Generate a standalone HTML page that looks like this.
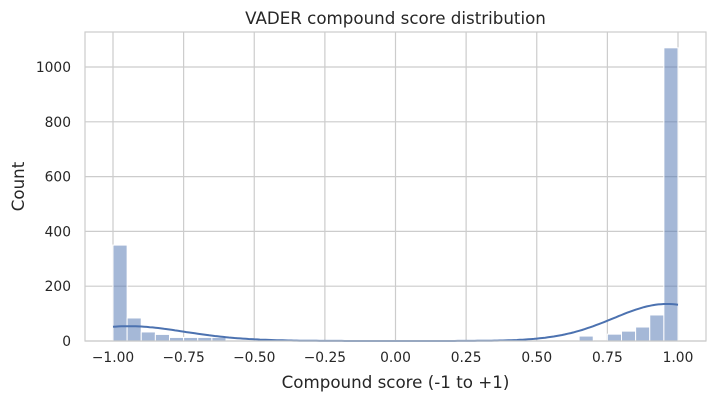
<!DOCTYPE html>
<html><head><meta charset="utf-8"><style>
body{margin:0;background:#fff;}
svg{display:block;font-family:"DejaVu Sans","Liberation Sans",sans-serif;}
</style></head><body>
<svg id="chart" width="715" height="402">
<g id="grid"></g><g id="bars"></g><g id="kde"></g>
<rect x="85" y="32" width="621" height="309" fill="none" stroke="#cccccc" stroke-width="1.2"/>
<g id="ticks"></g>
<text x="395.5" y="24" text-anchor="middle" font-size="16.7" fill="#262626">VADER compound score distribution</text>
<text x="395.5" y="388" text-anchor="middle" font-size="16.7" fill="#262626">Compound score (-1 to +1)</text>
<text x="24" y="186.5" text-anchor="middle" font-size="16.7" fill="#262626" transform="rotate(-90 24 186.5)">Count</text>
</svg>
<script>
const binCounts = [350,84,33,24,13,13,13,13,0,0,0,0,0,0,0,0,0,0,0,0,0,0,0,0,0,0,0,0,0,0,0,0,0,18,0,25,36,51,95,1070];
const xTicks = [-1,-0.75,-0.5,-0.25,0,0.25,0.5,0.75,1];
const xTickLabels = ["\u22121.00","\u22120.75","\u22120.50","\u22120.25","0.00","0.25","0.50","0.75","1.00"];
const yTicks = [0,200,400,600,800,1000];
const NS="http://www.w3.org/2000/svg";
const X=v=>113+(v+1)*282.5;
const Y=c=>341-c*0.274;
const binW=0.05;
function mk(t,a,p){const e=document.createElementNS(NS,t);for(const k in a)e.setAttribute(k,a[k]);p.appendChild(e);return e;}
const grid=document.getElementById('grid'),ticks=document.getElementById('ticks');
xTicks.forEach((v,i)=>{
  const l=mk('line',{x1:X(v),x2:X(v),y1:32,y2:341,stroke:'#cccccc','stroke-width':1.2},grid);
  
  
  const t=mk('text',{x:X(v),y:362,'text-anchor':'middle','font-size':13.8,fill:'#262626'},ticks);
  t.textContent=xTickLabels[i];
  
  
});
yTicks.forEach(v=>{
  const l=mk('line',{x1:85,x2:706,y1:Y(v),y2:Y(v),stroke:'#cccccc','stroke-width':1.2},grid);
  
  
  const t=mk('text',{x:71,y:Y(v)+5,'text-anchor':'end','font-size':13.8,fill:'#262626'},ticks);
  t.textContent=v;
  
  
});
const bars=document.getElementById('bars');
binCounts.forEach((c,i)=>{
  if(!c)return;
  const x0=-1+i*binW;
  const r=mk('rect',{x:X(x0),y:Y(c),width:X(x0+binW)-X(x0),height:341-Y(c),fill:'rgba(76,114,176,0.5)',stroke:'#ffffff','stroke-width':1},bars);
  
  
});
const N=binCounts.reduce((a,b)=>a+b,0),bw=0.185;
let d='';
for(let k=0;k<=200;k++){
  const x=-1+k*0.01;let s=0;
  binCounts.forEach((c,i)=>{const m=-1+(i+0.5)*binW;const z=(x-m)/bw;s+=c*Math.exp(-0.5*z*z);});
  const dens=s/(N*bw*Math.sqrt(2*Math.PI));
  d+=(k?'L':'M')+X(x).toFixed(1)+','+Y(dens*N*binW).toFixed(1);
}
const p=mk('path',{d:d,fill:'none',stroke:'#4c72b0','stroke-width':2},document.getElementById('kde'));


</script>
</body></html>
